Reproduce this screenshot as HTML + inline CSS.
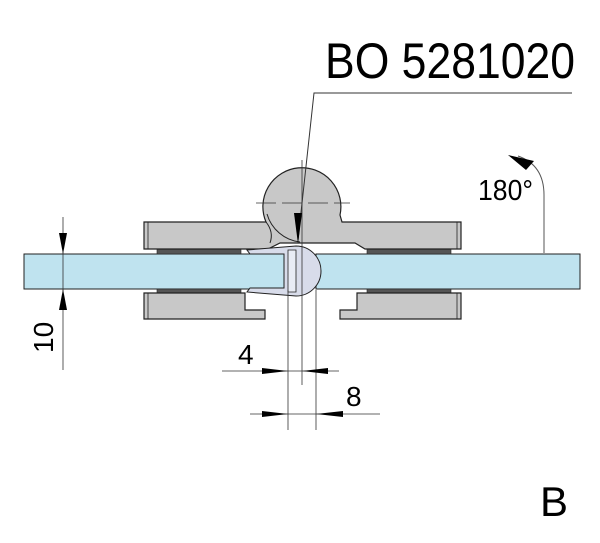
<!DOCTYPE html>
<html><head><meta charset="utf-8"><style>html,body{margin:0;padding:0;background:#fff}svg{display:block}</style></head>
<body>
<svg width="600" height="543" viewBox="0 0 600 543" xmlns="http://www.w3.org/2000/svg" font-family="Liberation Sans, sans-serif">
<!-- glass -->
<rect x="24" y="254" width="263" height="35" fill="#bfe3ef" stroke="#222" stroke-width="1"/>
<rect x="316" y="254" width="264" height="35" fill="#bfe3ef" stroke="#222" stroke-width="1"/>
<!-- gasket dark bars -->
<rect x="157" y="249" width="84" height="5" fill="#555" stroke="#222" stroke-width="0.6"/>
<rect x="367" y="249" width="84" height="5" fill="#555" stroke="#222" stroke-width="0.6"/>
<rect x="157" y="289" width="84" height="5" fill="#555" stroke="#222" stroke-width="0.6"/>
<rect x="367" y="289" width="84" height="5" fill="#555" stroke="#222" stroke-width="0.6"/>
<!-- top plate with knuckle -->
<path d="M144,222 L266,222 A39,39 0 1 1 340,215 L342,222 L461,222 L461,249 L365,249 L355,243 L280,243 L268,249 L144,249 Z" fill="#c8c8c8" stroke="#222" stroke-width="1.2"/>
<path d="M266,222 Q274,232 270,243" fill="none" stroke="#222" stroke-width="1"/>
<path d="M267,214 A39,39 0 0 0 300,242" fill="none" stroke="#222" stroke-width="1"/>
<line x1="148" y1="222" x2="148" y2="249" stroke="#222" stroke-width="0.8"/>
<line x1="457" y1="222" x2="457" y2="249" stroke="#222" stroke-width="0.8"/>
<!-- bottom plates -->
<path d="M144,293 L245,293 L245,310 L265,310 L265,319 L144,319 Z" fill="#c8c8c8" stroke="#222" stroke-width="1.2"/>
<path d="M461,293 L357,293 L357,310 L340,310 L340,319 L461,319 Z" fill="#c8c8c8" stroke="#222" stroke-width="1.2"/>
<line x1="148" y1="293" x2="148" y2="319" stroke="#222" stroke-width="0.8"/>
<line x1="457" y1="293" x2="457" y2="319" stroke="#222" stroke-width="0.8"/>
<!-- seal -->
<path d="M247,250 L296,246 A22,22 0 0 1 296,296 L247,292 L250,288 L284,288 L284,254 L250,254 Z" fill="#d8dcea" stroke="#222" stroke-width="1"/>
<path d="M288,250 L296,250 L296,292 L288,292 Z" fill="#e8ecf5" stroke="#222" stroke-width="0.8"/>
<!-- centre lines -->
<line x1="256" y1="203" x2="350" y2="203" stroke="#333" stroke-width="0.8" stroke-dasharray="20,6"/>
<line x1="302" y1="160" x2="302" y2="385" stroke="#333" stroke-width="0.8"/>
<line x1="288" y1="290" x2="288" y2="430" stroke="#333" stroke-width="0.8"/>
<line x1="316" y1="290" x2="316" y2="430" stroke="#333" stroke-width="0.8"/>
<!-- leader -->
<polyline points="572,93 314,93 298,240" fill="none" stroke="#333" stroke-width="1"/>
<polygon points="294,213 302,213 298,244" fill="#000"/>
<text x="325" y="78" font-size="50" textLength="250" lengthAdjust="spacingAndGlyphs">BO 5281020</text>
<!-- 180 -->
<path d="M544,253 L544,195 Q544,165 518,156" fill="none" stroke="#555" stroke-width="1"/>
<polygon points="508,155 534,161 526,170" fill="#000"/>
<text x="478" y="200" font-size="29" textLength="55" lengthAdjust="spacingAndGlyphs">180°</text>
<!-- 10 dim -->
<line x1="63" y1="217" x2="63" y2="370" stroke="#333" stroke-width="0.8"/>
<polygon points="59,233 67,233 63,254" fill="#000"/>
<polygon points="59,310 67,310 63,289" fill="#000"/>
<text transform="translate(53,353) rotate(-90)" font-size="28">10</text>
<!-- 4 dim -->
<line x1="222" y1="371" x2="339" y2="371" stroke="#333" stroke-width="0.8"/>
<polygon points="262,368 262,374 288,371" fill="#000"/>
<polygon points="328,368 328,374 302,371" fill="#000"/>
<text x="238" y="364" font-size="28">4</text>
<!-- 8 dim -->
<line x1="250" y1="414" x2="380" y2="414" stroke="#333" stroke-width="0.8"/>
<polygon points="262,411 262,417 288,414" fill="#000"/>
<polygon points="343,411 343,417 316,414" fill="#000"/>
<text x="346" y="406" font-size="28">8</text>
<text x="540" y="516" font-size="42">B</text>
</svg>
</body></html>
